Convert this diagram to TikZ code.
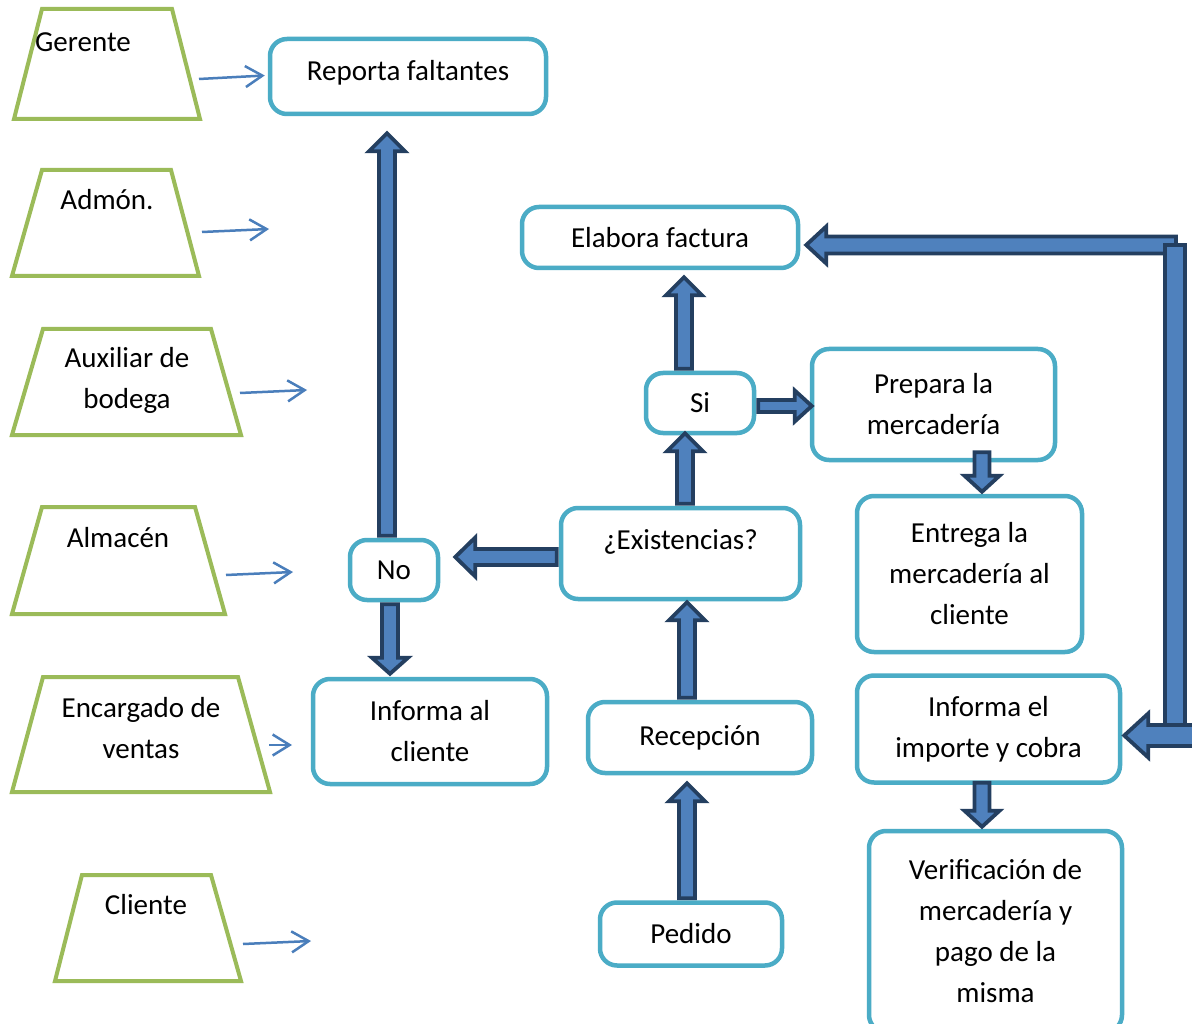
\documentclass[tikz,border=0pt]{standalone}
\usepackage{fontspec}
\setmainfont{Carlito}
\usetikzlibrary{calc,arrows.meta}

\definecolor{boxline}{HTML}{4BACC6}
\definecolor{trapline}{HTML}{9BBB59}
\definecolor{thinline}{HTML}{4A7EBB}
\definecolor{barfill}{HTML}{4F81BD}
\definecolor{barline}{HTML}{243F60}

\tikzset{
  stepbox/.style={draw=boxline, line width=4.5pt, rounded corners=17pt, fill=white,
                  align=center, inner sep=0pt},
  role/.style={draw=trapline, line width=4pt, line join=miter},
  roletext/.style={align=center, inner sep=0pt},
  flow/.style={draw=thinline, line width=2.5pt,
               -{Straight Barb[length=17pt,width=21pt,line width=2.5pt]}},
  blockarrow/.style={draw=barline, fill=barfill, line width=3.8pt, line join=miter},
}

% shaft half width, head half width, head length of the block arrows
\newcommand\baS{8pt}
\newcommand\baH{18pt}
\newcommand\baL{18pt}
% block arrow from #1 (tail) to #2 (tip)
\newcommand\blockarrow[2]{%
  \coordinate (ba-s) at (#1);
  \coordinate (ba-e) at (#2);
  \coordinate (ba-h) at ($(ba-e)!\baL!(ba-s)$);
  \draw[blockarrow] ($(ba-s)!\baS!90:(ba-e)$) -- ($(ba-h)!\baS!90:(ba-e)$)
     -- ($(ba-h)!\baH!90:(ba-e)$) -- (ba-e) -- ($(ba-h)!\baH!-90:(ba-e)$)
     -- ($(ba-h)!\baS!-90:(ba-e)$) -- ($(ba-s)!\baS!-90:(ba-e)$) -- cycle;
}

\begin{document}
\begin{tikzpicture}[x=1pt, y=-1pt, font=\fontsize{29}{41}\selectfont]
  \useasboundingbox (0,0) rectangle (1192,1024);
  \fill[white] (0,0) rectangle (1192,1024);

  % roles (trapezoids)
  \draw[role] (42,9) -- (172,9) -- (200,119) -- (14,119) -- cycle;
  \node[roletext] (gerente) at (83,42) {Gerente};
  \draw[role] (42,170) -- (171,170) -- (199,276) -- (12,276) -- cycle;
  \node[roletext] (admon) at (107,200) {Admón.};
  \draw[role] (43,329) -- (211,329) -- (241,435) -- (12,435) -- cycle;
  \node[roletext] (auxiliar) at (127,380) {Auxiliar de\\bodega};
  \draw[role] (42,507) -- (195,507) -- (225,614) -- (12,614) -- cycle;
  \node[roletext] (almacen) at (118,538) {Almacén};
  \draw[role] (43,677) -- (238,677) -- (270,792) -- (12,792) -- cycle;
  \node[roletext] (encargado) at (141,728) {Encargado de\\ventas};
  \draw[role] (82,875) -- (211,875) -- (241,981) -- (55,981) -- cycle;
  \node[roletext] (cliente) at (146,905) {Cliente};

  % process steps
  \node[stepbox, minimum width=276, minimum height=75, text depth=12pt] (rep) at (408,76.5) {Reporta faltantes};
  \node[stepbox, minimum width=276, minimum height=61] (elab) at (660,237.5) {Elabora factura};
  \node[stepbox, minimum width=108, minimum height=60] (si) at (700,403) {Si};
  \node[stepbox, minimum width=243, minimum height=111] (prep) at (933.5,404.5) {Prepara la\\mercadería};
  \node[stepbox, minimum width=239, minimum height=91] (exist) at (680.5,553.5) {};
  \node[inner sep=0pt] (exist-t) at (680.5,542) {¿Existencias?};
  \node[stepbox, minimum width=88, minimum height=60] (no) at (394,570) {No};
  \node[stepbox, minimum width=225, minimum height=156] (entrega) at (969.5,574) {Entrega la\\mercadería al\\cliente};
  \node[stepbox, minimum width=234, minimum height=105] (infcl) at (430,731.5) {Informa al\\cliente};
  \node[stepbox, minimum width=224, minimum height=71] (recep) at (700,737.5) {Recepción};
  \node[stepbox, minimum width=263, minimum height=107] (infimp) at (988.5,729) {Informa el\\importe y cobra};
  \node[stepbox, minimum width=182, minimum height=63] (pedido) at (691,934) {Pedido};
  \node[stepbox, minimum width=253, minimum height=201] (verif) at (995.5,931.5) {Verificación de\\mercadería y\\pago de la\\misma};

  % thin arrows from the roles
  \coordinate (f1) at (199,79);  \coordinate (f2) at (202,232);
  \coordinate (f3) at (240,393); \coordinate (f4) at (226,575);
  \coordinate (f5) at (269,745); \coordinate (f6) at (243,944);
  \coordinate (t2) at (269,229); \coordinate (t3) at (307,390);
  \coordinate (t4) at (293,572); \coordinate (t5) at (292,745);
  \coordinate (t6) at (311,941);
  \draw[flow] (f1) -- ($(rep.west)+(-3,-1)$);
  \draw[flow] (f2) -- (t2);
  \draw[flow] (f3) -- (t3);
  \draw[flow] (f4) -- (t4);
  \draw[flow] (f5) -- (t5);
  \draw[flow] (f6) -- (t6);

  % block arrows of the flow
  \blockarrow{$(no.north)+(-7,-2)$}{$(no.north |- rep.south)+(-7,17)$}
  {\renewcommand\baH{19.5pt}\renewcommand\baL{20pt}%
   \blockarrow{$(exist.west)+(-2,3.5)$}{$(no.east |- exist.west)+(15,3.5)$}}
  {\renewcommand\baL{16pt}%
   \blockarrow{$(no.south)+(-4,2)$}{$(no.south |- infcl.north)+(-4,-3)$}}
  \blockarrow{$(recep.north)+(-13,-2)$}{$(recep.north |- exist.south)+(-13,1)$}
  \blockarrow{$(pedido.north)+(-4,-2)$}{$(pedido.north |- recep.south)+(-4,8)$}
  \blockarrow{$(exist.north)+(4.5,-2)$}{$(exist.north |- si.south)+(4.5,-2)$}
  \blockarrow{$(si.north)+(-16,-2)$}{$(si.north |- elab.south)+(-16,7)$}
  {\renewcommand\baS{6pt}\renewcommand\baH{15.5pt}\renewcommand\baL{17pt}%
   \blockarrow{$(si.east)+(2,3)$}{$(prep.west |- si.east)+(2,3)$}}
  {\renewcommand\baS{7.5pt}\renewcommand\baH{17.5pt}\renewcommand\baL{16pt}%
   \blockarrow{$(prep.south)+(48.5,-10)$}{$(prep.south |- entrega.north)+(48.5,-2)$}
   \blockarrow{$(infimp.south)+(-6.5,-2)$}{$(infimp.south |- verif.north)+(-6.5,-2)$}}

  % return path on the right
  \coordinate (rtop) at (1176,245);
  \coordinate (rv1) at (1165,245);
  \coordinate (rv2) at (1185,728);
  \coordinate (rbot) at (1202,735.5);
  {\renewcommand\baS{8.5pt}\renewcommand\baH{18.5pt}\renewcommand\baL{20pt}%
   \blockarrow{rtop}{$(elab.east |- rtop)+(6,0)$}}
  \draw[blockarrow] (rv1) rectangle (rv2);
  {\renewcommand\baS{10.5pt}\renewcommand\baH{22pt}\renewcommand\baL{24pt}%
   \blockarrow{rbot}{$(infimp.east |- rbot)+(2,0)$}}
\end{tikzpicture}
\end{document}
